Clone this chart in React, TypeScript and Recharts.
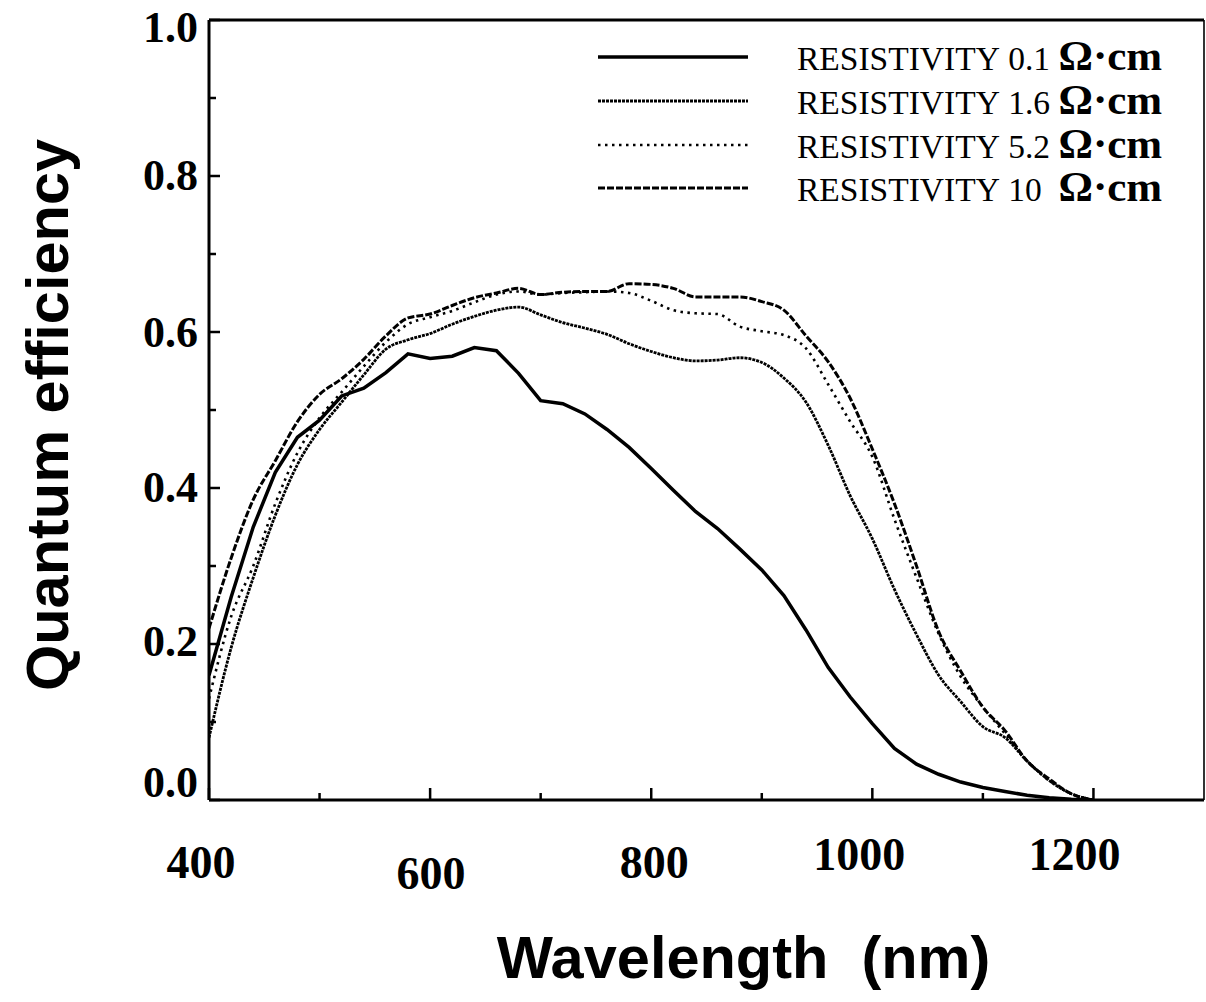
import React from 'react';
import { LineChart, Line, XAxis, YAxis, Legend, ReferenceLine } from 'recharts';

const WAVELENGTHS = [400, 420, 440, 460, 480, 500, 520, 540, 560, 580, 600, 620, 640, 660, 680, 700, 720, 740, 760, 780, 800, 820, 840, 860, 880, 900, 920, 940, 960, 980, 1000, 1020, 1040, 1060, 1080, 1100, 1120, 1140, 1160, 1180, 1200];
const QE_01 = [0.16, 0.26, 0.35, 0.42, 0.465, 0.487, 0.518, 0.528, 0.548, 0.572, 0.566, 0.569, 0.58, 0.576, 0.547, 0.512, 0.508, 0.495, 0.475, 0.452, 0.425, 0.397, 0.37, 0.348, 0.322, 0.295, 0.262, 0.218, 0.17, 0.132, 0.098, 0.066, 0.046, 0.033, 0.023, 0.016, 0.011, 0.006, 0.003, 0.001, 0];
const QE_16 = [0.08, 0.195, 0.285, 0.365, 0.43, 0.475, 0.51, 0.545, 0.578, 0.59, 0.598, 0.61, 0.62, 0.628, 0.632, 0.622, 0.612, 0.605, 0.597, 0.585, 0.575, 0.567, 0.563, 0.564, 0.567, 0.561, 0.541, 0.51, 0.455, 0.39, 0.335, 0.27, 0.212, 0.16, 0.126, 0.094, 0.08, 0.05, 0.025, 0.008, 0];
const QE_52 = [0.13, 0.235, 0.30, 0.38, 0.445, 0.49, 0.523, 0.556, 0.587, 0.61, 0.619, 0.627, 0.638, 0.648, 0.652, 0.648, 0.65, 0.651, 0.652, 0.65, 0.64, 0.628, 0.624, 0.623, 0.607, 0.601, 0.596, 0.579, 0.533, 0.485, 0.44, 0.36, 0.285, 0.213, 0.158, 0.119, 0.085, 0.05, 0.025, 0.008, 0];
const QE_10 = [0.22, 0.31, 0.385, 0.435, 0.485, 0.52, 0.54, 0.565, 0.595, 0.618, 0.623, 0.634, 0.644, 0.65, 0.656, 0.648, 0.651, 0.652, 0.652, 0.662, 0.661, 0.656, 0.645, 0.645, 0.645, 0.639, 0.628, 0.595, 0.562, 0.515, 0.45, 0.38, 0.30, 0.216, 0.165, 0.119, 0.089, 0.05, 0.027, 0.008, 0];

const X_TICKS = [400, 500, 600, 700, 800, 900, 1000, 1100, 1200];
const Y_TICKS = [0, 0.1, 0.2, 0.3, 0.4, 0.5, 0.6, 0.7, 0.8, 0.9, 1.0];
const X_LABELS = ['400', '600', '800', '1000', '1200'];
const Y_LABELS = ['0.0', '0.2', '0.4', '0.6', '0.8', '1.0'];

const SERIES = [
  { key: 'r01', label: 'RESISTIVITY 0.1 ', unit: 'Ω·cm', width: 3.5, dash: undefined as string | undefined, type: 'linear' },
  { key: 'r16', label: 'RESISTIVITY 1.6 ', unit: 'Ω·cm', width: 2.8, dash: '3 1', type: 'monotone' },
  { key: 'r52', label: 'RESISTIVITY 5.2 ', unit: 'Ω·cm', width: 2.6, dash: '2.5 4.5', type: 'monotone' },
  { key: 'r10', label: 'RESISTIVITY 10  ', unit: 'Ω·cm', width: 3, dash: '7 2', type: 'monotone' },
];

const data = WAVELENGTHS.map((w, i) => ({ w, r01: QE_01[i], r16: QE_16[i], r52: QE_52[i], r10: QE_10[i] }));

const SERIF = '"Liberation Serif", "Times New Roman", serif';
const SANS = '"Liberation Sans", Arial, sans-serif';

// per-label nudges imitating the scanned original's uneven placement
const X_LABEL_DX: Record<string, number> = { '400': -8, '600': 1, '800': 3, '1000': -13, '1200': -19 };
const X_LABEL_BASE: Record<string, number> = { '400': 78, '600': 89, '800': 78, '1000': 70, '1200': 70 };
const Y_LABEL_DY: Record<string, number> = { '0.0': -18, '0.2': -3, '0.4': -1, '0.6': 0, '0.8': -1, '1.0': 7 };

const XTick = (props: any) => {
  const { x, y, payload } = props;
  const v = payload.value as number;
  const major = v % 200 === 0;
  const text = String(v);
  return (
    <g>
      <line x1={x} y1={y} x2={x} y2={y - (major ? 12 : 7)} stroke="#000" strokeWidth={2.5} />
      {major && X_LABELS.includes(text) && (
        <text x={x + (X_LABEL_DX[text] || 0)} y={y + (X_LABEL_BASE[text] || 75)} textAnchor="middle"
          fontFamily={SERIF} fontWeight="bold" fontSize={46} fill="#000">{text}</text>
      )}
    </g>
  );
};

const YTick = (props: any) => {
  const { x, y, payload } = props;
  const v = payload.value as number;
  const tenth = Math.round(v * 10);
  const major = tenth % 2 === 0;
  const text = (tenth / 10).toFixed(1);
  return (
    <g>
      <line x1={x} y1={y} x2={x + (major ? 11 : 7)} y2={y} stroke="#000" strokeWidth={2.5} />
      {major && Y_LABELS.includes(text) && (
        <text x={x - 11} y={y + (Y_LABEL_DY[text] || 0)} dy="0.34em" textAnchor="end"
          fontFamily={SERIF} fontWeight="bold" fontSize={44} fill="#000">{text}</text>
      )}
    </g>
  );
};

const XTitle = (props: any) => {
  const vb = props.viewBox || { x: 0, y: 0, width: 0, height: 0 };
  return (
    <text x={vb.x + vb.width / 2 + 37} y={vb.y + 178} textAnchor="middle"
      fontFamily={SANS} fontWeight="bold" fontSize={59.5} fill="#000" style={{ whiteSpace: 'pre' }}>
      {'Wavelength\u00a0\u00a0(nm)'}
    </text>
  );
};

const YTitle = (props: any) => {
  const vb = props.viewBox || { x: 0, y: 0, width: 0, height: 0 };
  const cx = 68;
  const cy = vb.y + vb.height / 2 + 5;
  return (
    <text x={cx} y={cy} transform={`rotate(-90 ${cx} ${cy})`} textAnchor="middle"
      fontFamily={SANS} fontWeight="bold" fontSize={59.5} fill="#000">
      Quantum efficiency
    </text>
  );
};

const LEGEND_ROWS_Y = [57, 101, 145, 188];

const LegendBox = () => (
  <svg width={1206} height={220} style={{ position: 'absolute', left: 0, top: 0, pointerEvents: 'none' }}>
    {SERIES.map((s, i) => {
      const y = LEGEND_ROWS_Y[i];
      return (
        <g key={s.key}>
          <line x1={598} y1={y} x2={748} y2={y} stroke="#000" strokeWidth={s.width} strokeDasharray={s.dash} />
          <text x={797} y={y + 13} fontFamily={SERIF} fontSize={33.5} fill="#000" style={{ whiteSpace: 'pre' }}>
            {s.label.replace(/ /g, '\u00a0')}
            <tspan fontWeight="bold" fontSize={43}>{s.unit}</tspan>
          </text>
        </g>
      );
    })}
  </svg>
);

export default function App() {
  return (
    <div style={{ position: 'relative', width: 1206, height: 1002 }}>
      <style>{'body{margin:0;background:#fff;}'}</style>
      <LineChart width={1206} height={1002} data={data} margin={{ top: 20, right: 2, bottom: 0, left: 0 }}>
        <XAxis dataKey="w" type="number" domain={[400, 1300]} ticks={X_TICKS} height={202}
          tickSize={0} tickMargin={0} tickLine={false} tick={<XTick />} interval={0}
          axisLine={{ stroke: '#000', strokeWidth: 3 }} label={<XTitle />} allowDataOverflow />
        <YAxis type="number" domain={[0, 1]} ticks={Y_TICKS} width={209} tickSize={0} tickMargin={0}
          tickLine={false} tick={<YTick />} interval={0} axisLine={{ stroke: '#000', strokeWidth: 3 }}
          label={<YTitle />} allowDataOverflow />
        <ReferenceLine y={1} stroke="#000" strokeWidth={3} ifOverflow="extendDomain" />
        <ReferenceLine x={1300} stroke="#000" strokeWidth={1.6} ifOverflow="extendDomain" />
        <Legend layout="horizontal" align="center" verticalAlign="middle" content={<LegendBox />}
          wrapperStyle={{ position: 'absolute', left: 0, top: 0, width: 1206, height: 220 }} />
        {SERIES.map((s) => (
          <Line key={s.key} dataKey={s.key} type={s.type as any} stroke="#000" strokeWidth={s.width}
            strokeDasharray={s.dash} dot={false} activeDot={false} isAnimationActive={false} />
        ))}
      </LineChart>
    </div>
  );
}
